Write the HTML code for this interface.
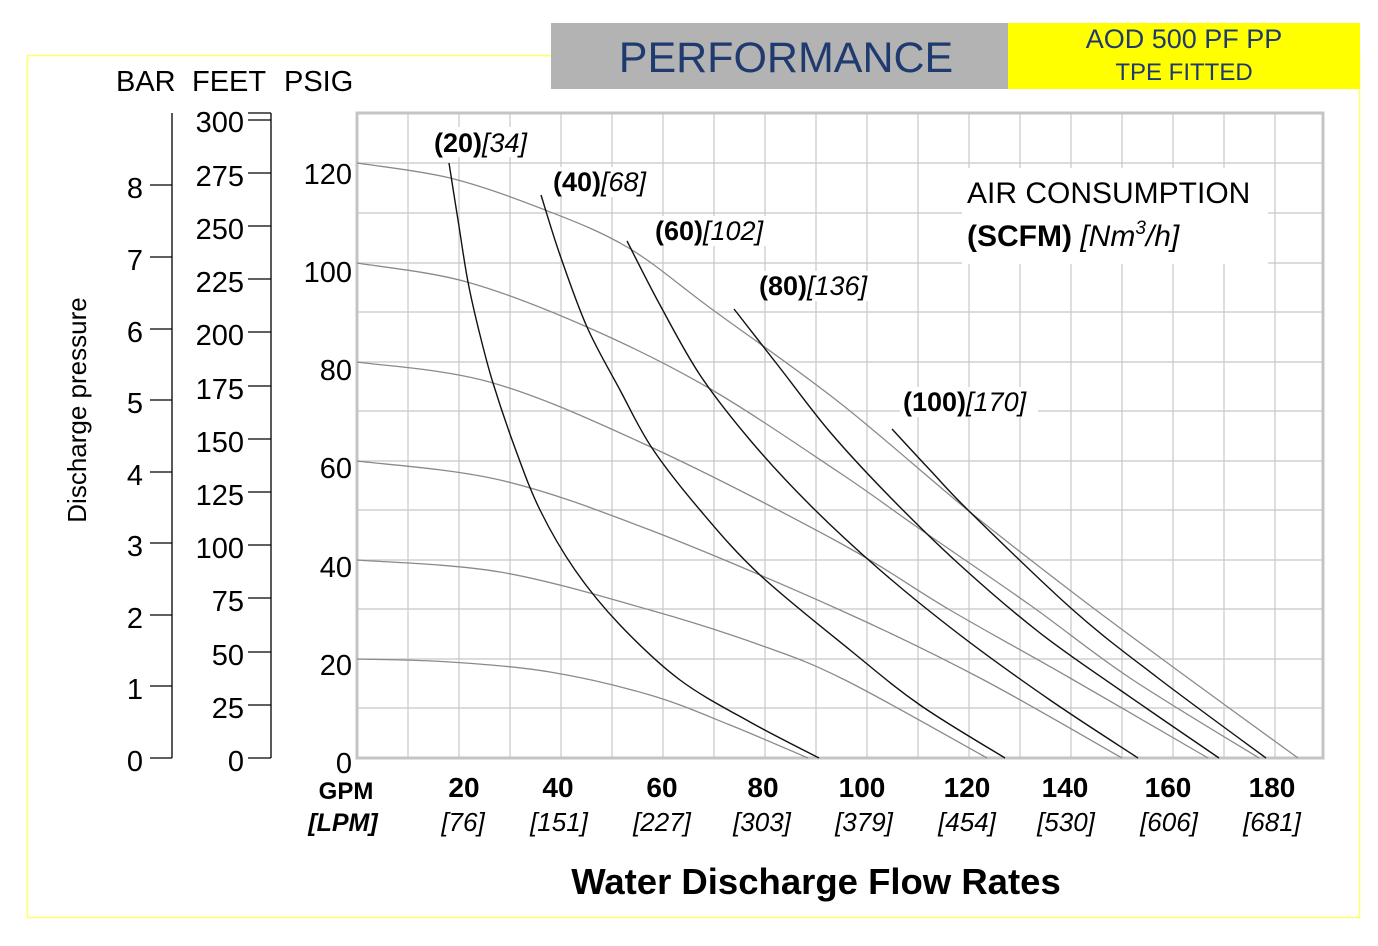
<!DOCTYPE html>
<html><head><meta charset="utf-8"><style>
body{margin:0;background:#fff;}
svg{display:block;font-family:"Liberation Sans",Arial,sans-serif;}
</style></head><body>
<svg id="s" width="1378" height="946" viewBox="0 0 1378 946" xmlns="http://www.w3.org/2000/svg">
<rect x="27.5" y="55.5" width="1332" height="862" fill="none" stroke="#ffff66" stroke-width="1.5"/>
<rect x="551" y="23" width="457" height="66" fill="#b3b3b3"/>
<rect x="1008" y="23" width="352" height="66" fill="#ffff00"/>
<text x="786" y="72" font-size="43" fill="#1f3a6e" text-anchor="middle">PERFORMANCE</text>
<text x="1184" y="48" font-size="27" fill="#1f3a6e" text-anchor="middle">AOD 500 PF PP</text>
<text x="1184" y="80" font-size="24" fill="#1f3a6e" text-anchor="middle">TPE FITTED</text>

<text x="116" y="91" font-size="29">BAR</text>
<text x="192" y="91" font-size="29">FEET</text>
<text x="284" y="91" font-size="29">PSIG</text>
<text transform="translate(86,410) rotate(-90)" font-size="26" text-anchor="middle">Discharge pressure</text>

<g stroke="#000" stroke-width="1.3">
<line x1="172" y1="113" x2="172" y2="758"/>
<line x1="150" y1="758" x2="172" y2="758"/><line x1="150" y1="686" x2="172" y2="686"/>
<line x1="150" y1="615" x2="172" y2="615"/><line x1="150" y1="543" x2="172" y2="543"/>
<line x1="150" y1="472" x2="172" y2="472"/><line x1="150" y1="400" x2="172" y2="400"/>
<line x1="150" y1="329" x2="172" y2="329"/><line x1="150" y1="257" x2="172" y2="257"/>
<line x1="150" y1="185" x2="172" y2="185"/>
<line x1="271" y1="113" x2="271" y2="758"/>
<line x1="248" y1="113" x2="271" y2="113"/>
<line x1="248" y1="758" x2="271" y2="758"/><line x1="248" y1="705" x2="271" y2="705"/>
<line x1="248" y1="652" x2="271" y2="652"/><line x1="248" y1="598" x2="271" y2="598"/>
<line x1="248" y1="545" x2="271" y2="545"/><line x1="248" y1="492" x2="271" y2="492"/>
<line x1="248" y1="439" x2="271" y2="439"/><line x1="248" y1="386" x2="271" y2="386"/>
<line x1="248" y1="332" x2="271" y2="332"/><line x1="248" y1="279" x2="271" y2="279"/>
<line x1="248" y1="226" x2="271" y2="226"/><line x1="248" y1="173" x2="271" y2="173"/>
<line x1="248" y1="120" x2="271" y2="120"/>
</g>
<g font-size="29" text-anchor="end">
<text x="143" y="771">0</text><text x="143" y="699">1</text><text x="143" y="628">2</text>
<text x="143" y="556">3</text><text x="143" y="485">4</text><text x="143" y="413">5</text>
<text x="143" y="342">6</text><text x="143" y="270">7</text><text x="143" y="198">8</text>
<text x="244" y="771">0</text><text x="244" y="718">25</text><text x="244" y="665">50</text>
<text x="244" y="611">75</text><text x="244" y="558">100</text><text x="244" y="505">125</text>
<text x="244" y="452">150</text><text x="244" y="399">175</text><text x="244" y="345">200</text>
<text x="244" y="292">225</text><text x="244" y="239">250</text><text x="244" y="186">275</text>
<text x="244" y="132">300</text>
<text x="352" y="773">0</text><text x="352" y="675">20</text><text x="352" y="577">40</text>
<text x="352" y="478">60</text><text x="352" y="380">80</text><text x="352" y="282">100</text>
<text x="352" y="184">120</text>
</g>

<g stroke="#c8c8c8" stroke-width="1.2">
<line x1="408" y1="113" x2="408" y2="758"/><line x1="459" y1="113" x2="459" y2="758"/>
<line x1="510" y1="113" x2="510" y2="758"/><line x1="561" y1="113" x2="561" y2="758"/>
<line x1="612" y1="113" x2="612" y2="758"/><line x1="663" y1="113" x2="663" y2="758"/>
<line x1="714" y1="113" x2="714" y2="758"/><line x1="765" y1="113" x2="765" y2="758"/>
<line x1="816" y1="113" x2="816" y2="758"/><line x1="867" y1="113" x2="867" y2="758"/>
<line x1="918" y1="113" x2="918" y2="758"/><line x1="969" y1="113" x2="969" y2="758"/>
<line x1="1020" y1="113" x2="1020" y2="758"/><line x1="1071" y1="113" x2="1071" y2="758"/>
<line x1="1122" y1="113" x2="1122" y2="758"/><line x1="1173" y1="113" x2="1173" y2="758"/>
<line x1="1224" y1="113" x2="1224" y2="758"/><line x1="1275" y1="113" x2="1275" y2="758"/>
<line x1="357" y1="163" x2="1323" y2="163"/><line x1="357" y1="213" x2="1323" y2="213"/>
<line x1="357" y1="263" x2="1323" y2="263"/><line x1="357" y1="312" x2="1323" y2="312"/>
<line x1="357" y1="362" x2="1323" y2="362"/><line x1="357" y1="411" x2="1323" y2="411"/>
<line x1="357" y1="461" x2="1323" y2="461"/><line x1="357" y1="510" x2="1323" y2="510"/>
<line x1="357" y1="560" x2="1323" y2="560"/><line x1="357" y1="609" x2="1323" y2="609"/>
<line x1="357" y1="659" x2="1323" y2="659"/><line x1="357" y1="708" x2="1323" y2="708"/>
</g>
<rect x="357" y="113" width="966" height="645" fill="none" stroke="#c4c4c4" stroke-width="3"/>

<g fill="#fff">
<rect x="962" y="168" width="306" height="96"/>
<rect x="432" y="127" width="106" height="30"/>
<rect x="551" y="167" width="106" height="30"/>
<rect x="653" y="216" width="122" height="30"/>
<rect x="757" y="271" width="122" height="30"/>
<rect x="900" y="387" width="138" height="30"/>
</g>

<g class="c" fill="none" stroke="#8a8a8a" stroke-width="1.3" stroke-linejoin="round">
<polyline points="357,163 450,178 540,208 627,247 713,310 840,403 970,512 1080,598 1188,678 1298,758"/>
<polyline points="357,263 467,282 587,327 707,387 840,473 917,527 1030,605 1130,678 1259,758"/>
<polyline points="357,362 493,383 653,448 840,543 950,610 1070,678 1208,758"/>
<polyline points="357,461 500,480 650,530 840,610 980,678 1122,758"/>
<polyline points="357,560 500,572 650,610 760,645 845,680 987,758"/>
<polyline points="357,659 450,662 550,672 650,695 730,725 808,758"/>
</g>
<g class="c" fill="none" stroke="#111" stroke-width="1.4" stroke-linejoin="round">
<polyline points="449,163 458,220 468,282 480,335 493,383 515,448 540,510 575,570 620,625 680,680 750,722 819,758"/>
<polyline points="541,195 560,255 587,327 620,390 652,448 700,510 760,575 850,650 920,705 1005,758"/>
<polyline points="627,241 660,305 700,375 750,440 810,505 880,570 960,635 1050,700 1138,758"/>
<polyline points="734,309 780,368 830,432 890,497 960,565 1040,633 1120,690 1219,758"/>
<polyline points="892,429 930,470 970,512 1073,610 1158,678 1266,758"/>
</g>

<g font-size="27">
<text x="434" y="152"><tspan font-weight="bold">(20)</tspan><tspan font-style="italic">[34]</tspan></text>
<text x="553" y="191"><tspan font-weight="bold">(40)</tspan><tspan font-style="italic">[68]</tspan></text>
<text x="655" y="240"><tspan font-weight="bold">(60)</tspan><tspan font-style="italic">[102]</tspan></text>
<text x="759" y="295"><tspan font-weight="bold">(80)</tspan><tspan font-style="italic">[136]</tspan></text>
<text x="903" y="411"><tspan font-weight="bold">(100)</tspan><tspan font-style="italic">[170]</tspan></text>
</g>
<text x="967" y="203" font-size="30">AIR CONSUMPTION</text>
<text x="967" y="246" font-size="30"><tspan font-weight="bold">(SCFM)</tspan> <tspan font-style="italic">[Nm</tspan><tspan font-style="italic" font-size="19" dy="-12">3</tspan><tspan font-style="italic" dy="12">/h]</tspan></text>

<text x="346" y="799" font-size="24" font-weight="bold" text-anchor="middle">GPM</text>
<text x="343" y="831" font-size="25" font-weight="bold" font-style="italic" text-anchor="middle">[LPM]</text>
<g font-size="28" font-weight="bold" text-anchor="middle">
<text x="464" y="797">20</text><text x="558" y="797">40</text><text x="662" y="797">60</text>
<text x="763" y="797">80</text><text x="862" y="797">100</text><text x="967" y="797">120</text>
<text x="1065" y="797">140</text><text x="1168" y="797">160</text><text x="1272" y="797">180</text>
</g>
<g font-size="26" font-style="italic" text-anchor="middle">
<text x="463" y="831">[76]</text><text x="559" y="831">[151]</text><text x="662" y="831">[227]</text>
<text x="762" y="831">[303]</text><text x="864" y="831">[379]</text><text x="967" y="831">[454]</text>
<text x="1066" y="831">[530]</text><text x="1169" y="831">[606]</text><text x="1272" y="831">[681]</text>
</g>
<text x="816" y="894" font-size="36.5" font-weight="bold" text-anchor="middle">Water Discharge Flow Rates</text>
</svg>
<script>
(function(){
var pls=document.querySelectorAll('g.c polyline');
for(var i=0;i<pls.length;i++){
 var pl=pls[i];
 var a=pl.getAttribute('points').trim().split(/\s+/).map(function(s){return s.split(',').map(Number);});
 var d='M'+a[0][0]+','+a[0][1];
 for(var k=0;k<a.length-1;k++){
  var p0=a[k>0?k-1:0],p1=a[k],p2=a[k+1],p3=a[k+2<a.length?k+2:k+1];
  var c1x=p1[0]+(p2[0]-p0[0])/6,c1y=p1[1]+(p2[1]-p0[1])/6;
  var c2x=p2[0]-(p3[0]-p1[0])/6,c2y=p2[1]-(p3[1]-p1[1])/6;
  d+=' C'+c1x.toFixed(1)+','+c1y.toFixed(1)+' '+c2x.toFixed(1)+','+c2y.toFixed(1)+' '+p2[0]+','+p2[1];
 }
 var p=document.createElementNS('http://www.w3.org/2000/svg','path');
 p.setAttribute('d',d);
 pl.parentNode.replaceChild(p,pl);
}
})();
</script>
</body></html>
